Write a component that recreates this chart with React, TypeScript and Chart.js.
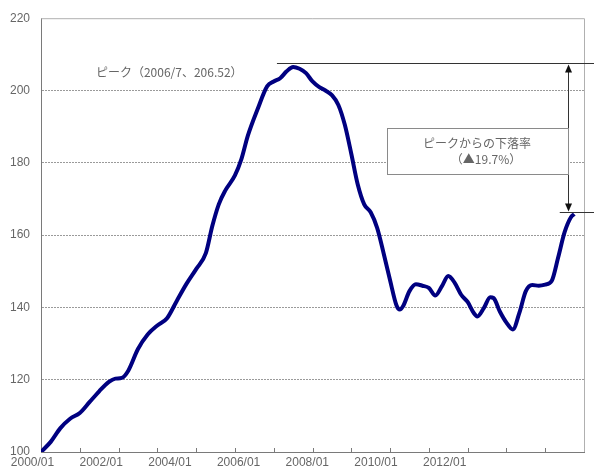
import { useEffect, useRef } from "react";
import { Chart, registerables } from "chart.js";

Chart.register(...registerables);

// Index series, 2000/01 = 100. x = months elapsed since 2000/01.
const months = [
  0, 3, 6, 9, 12, 15, 18, 21, 23, 25, 27, 30, 33, 36, 39, 42, 45, 48, 51, 53,
  55, 57, 60, 62, 64, 67, 70, 72, 74, 76, 78, 80, 82, 84, 86, 88, 90, 92, 94,
  96, 98, 100, 102, 104, 106, 108, 110, 111, 112, 114, 116, 118, 120, 122, 124,
  126, 128, 130, 132, 134, 135, 137, 139, 140, 142, 144, 146, 148, 150, 152,
  154, 156, 158, 160, 162, 164, 165,
];
const indexValues = [
  100.0, 102.8, 106.6, 109.2, 110.8, 113.8, 116.8, 119.4, 120.3, 120.5, 122.5,
  128.5, 132.5, 135.0, 137.0, 141.8, 146.5, 150.6, 155.0, 162.5, 168.5, 172.3,
  176.5, 181.0, 187.5, 194.8, 201.2, 202.5, 203.4, 205.3, 206.52, 206.0, 204.8,
  202.5, 201.0, 200.0, 198.7, 196.0, 190.5, 182.5, 174.0, 168.5, 166.3, 162.0,
  155.0, 147.5, 140.5, 139.4, 140.3, 144.5, 146.4, 146.0, 145.4, 143.3, 145.8,
  148.7, 146.8, 143.5, 141.5, 138.3, 137.5, 139.8, 142.8, 142.6, 138.8, 135.8,
  133.9, 138.5, 144.5, 146.2, 146.0, 146.3, 147.3, 153.8, 160.8, 165.0, 165.8,
];

const yTicks = [100, 120, 140, 160, 180, 200, 220];
const xTickLabels = ["2000/01", "2002/01", "2004/01", "2006/01", "2008/01", "2010/01", "2012/01"];

const peakLabel = "2006/7";
const peakValue = 206.52;
const lastValue = indexValues[indexValues.length - 1];
const dropRate = 19.7;

const LINE = "#000080";
const TEXT = "#666666";
const AXIS = "#7a7a7a";

const decorations = {
  id: "decorations",
  afterDraw(chart: any) {
    const { ctx, chartArea, scales } = chart;
    const x = scales.x;
    const y = scales.y;
    const W = chart.width;
    ctx.save();

    // light frame on top and right
    ctx.strokeStyle = "#b0b0b0";
    ctx.lineWidth = 1;
    ctx.beginPath();
    ctx.moveTo(chartArea.left, chartArea.top + 0.5);
    ctx.lineTo(chartArea.right + 0.5, chartArea.top + 0.5);
    ctx.lineTo(chartArea.right + 0.5, chartArea.bottom);
    ctx.stroke();

    // yearly tick marks pointing into the plot
    ctx.strokeStyle = AXIS;
    ctx.beginPath();
    for (let m = 12; m < 168; m += 12) {
      const px = Math.round(x.getPixelForValue(m)) + 0.5;
      ctx.moveTo(px, chartArea.bottom);
      ctx.lineTo(px, chartArea.bottom - 4);
    }
    ctx.stroke();

    // peak and latest level lines
    const yPeak = Math.round(y.getPixelForValue(peakValue) - 3.5) + 0.5;
    const yLast = Math.round(y.getPixelForValue(lastValue) - 2.5) + 0.5;
    ctx.strokeStyle = "#333333";
    ctx.lineWidth = 1;
    ctx.beginPath();
    ctx.moveTo(x.getPixelForValue(73), yPeak);
    ctx.lineTo(W, yPeak);
    ctx.moveTo(x.getPixelForValue(160.5), yLast);
    ctx.lineTo(W, yLast);
    ctx.stroke();

    // double-headed arrow between them
    const xa = Math.round(x.getPixelForValue(163)) + 0.5;
    ctx.beginPath();
    ctx.moveTo(xa, yPeak + 6);
    ctx.lineTo(xa, yLast - 6);
    ctx.stroke();
    ctx.fillStyle = "#111111";
    ctx.beginPath();
    ctx.moveTo(xa, yPeak + 1);
    ctx.lineTo(xa - 3.5, yPeak + 9);
    ctx.lineTo(xa + 3.5, yPeak + 9);
    ctx.closePath();
    ctx.fill();
    ctx.beginPath();
    ctx.moveTo(xa, yLast - 1);
    ctx.lineTo(xa - 3.5, yLast - 9);
    ctx.lineTo(xa + 3.5, yLast - 9);
    ctx.closePath();
    ctx.fill();

    // text box
    const bx0 = Math.round(x.getPixelForValue(107)) + 0.5;
    const by0 = Math.round(y.getPixelForValue(189.5)) + 0.5;
    const by1 = Math.round(y.getPixelForValue(177)) + 0.5;
    ctx.fillStyle = "#ffffff";
    ctx.fillRect(bx0, by0, xa - bx0, by1 - by0);
    ctx.strokeStyle = "#8a8a8a";
    ctx.strokeRect(bx0, by0, xa - bx0, by1 - by0);

    ctx.fillStyle = TEXT;
    ctx.font = '12px "Noto Sans CJK JP"';
    ctx.textBaseline = "middle";
    ctx.textAlign = "center";
    ctx.fillText("ピークからの下落率", (bx0 + xa) / 2 - 1, by0 + 15);
    ctx.fillText(`（▲${dropRate}%）`, (bx0 + xa) / 2 + 8, by0 + 31);

    ctx.textAlign = "left";
    ctx.fillText(`ピーク（${peakLabel}、${peakValue}）`, x.getPixelForValue(17), y.getPixelForValue(204.9));

    ctx.restore();
  },
};

export default function App() {
  const ref = useRef<HTMLCanvasElement | null>(null);

  useEffect(() => {
    if (!ref.current) return;
    const points = months.map((m, i) => ({ x: m, y: indexValues[i] }));
    const tickFont = { family: '"Liberation Sans", Arial, sans-serif', size: 12 };
    const chart = new Chart(ref.current, {
      type: "line",
      data: {
        datasets: [
          {
            data: points,
            borderColor: LINE,
            borderWidth: 4,
            pointRadius: 0,
            cubicInterpolationMode: "monotone",
            fill: false,
          },
        ],
      },
      options: {
        animation: false,
        responsive: false,
        layout: { padding: { left: 0, top: 16, right: 10, bottom: 0 } },
        plugins: { legend: { display: false }, tooltip: { enabled: false } },
        scales: {
          x: {
            type: "linear",
            position: "bottom",
            min: 0,
            max: 168,
            grid: { display: false, drawTicks: false },
            border: { display: true, color: AXIS, width: 1 },
            ticks: { display: false },
            afterFit: (s: any) => {
              s.height = 0;
            },
          },
          // date labels sit on their own evenly spaced track below the axis
          xl: {
            type: "linear",
            position: "bottom",
            min: 2.97,
            max: 192.67,
            grid: { display: false, drawTicks: false },
            border: { display: false },
            afterBuildTicks: (s: any) => {
              s.ticks = xTickLabels.map((_, i) => ({ value: i * 24 }));
            },
            ticks: {
              autoSkip: false,
              maxRotation: 0,
              padding: 3,
              color: TEXT,
              font: tickFont,
              callback: (v: any) => xTickLabels[Math.round(Number(v) / 24)] ?? "",
            },
            afterFit: (s: any) => {
              s.height = 19;
            },
          },
          y: {
            type: "linear",
            min: 100,
            max: 220,
            afterBuildTicks: (s: any) => {
              s.ticks = yTicks.map((v) => ({ value: v }));
            },
            grid: {
              drawTicks: false,
              color: (c: any) => (c.tick && (c.tick.value === 100 || c.tick.value === 220) ? "rgba(0,0,0,0)" : "#9a9a9a"),
              lineWidth: 1,
            },
            border: { display: true, color: AXIS, width: 1, dash: [2, 1] },
            ticks: { padding: 11, color: TEXT, font: tickFont },
            afterFit: (s: any) => {
              s.width = 41;
            },
          },
        },
      },
      plugins: [decorations],
    });
    return () => chart.destroy();
  }, []);

  return (
    <div style={{ position: "absolute", left: 0, top: 0, width: 594, height: 471, background: "#fff" }}>
      <canvas ref={ref} width={594} height={471} style={{ display: "block" }} />
    </div>
  );
}
